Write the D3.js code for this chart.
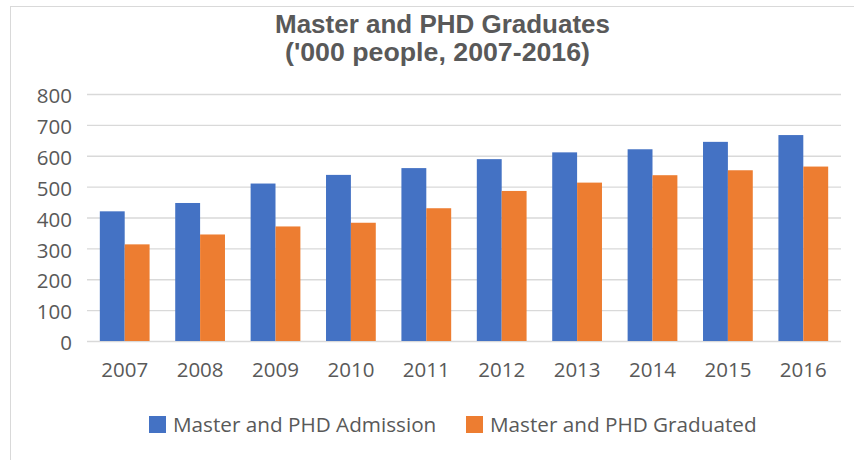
<!DOCTYPE html>
<html>
<head>
<meta charset="utf-8">
<script src="https://cdn.jsdelivr.net/npm/d3@7"></script>
<style>
  html, body { margin: 0; padding: 0; background: #fff; }
  svg { display: block; }
</style>
</head>
<body>
<svg id="chart" width="854" height="460"></svg>
<script>
const years = ["2007","2008","2009","2010","2011","2012","2013","2014","2015","2016"];
const admission = [420, 447, 510, 538, 560, 589, 611, 621, 645, 667];
const graduated = [313, 345, 371, 383, 430, 486, 513, 537, 553, 565];
const seriesNames = ["Master and PHD Admission", "Master and PHD Graduated"];
const seriesColors = ["#4472C4", "#ED7D31"];
const yTicks = [0, 100, 200, 300, 400, 500, 600, 700, 800];
const titleLines = ["Master and PHD Graduates", "('000 people, 2007-2016)"];

const svg = d3.select("#chart");
const textColor = "#595959";
const numFont = "'Open Sans', 'Noto Sans', sans-serif";

// frame
svg.append("rect")
  .attr("x", 10.5).attr("y", 6.5)
  .attr("width", 900).attr("height", 500)
  .attr("fill", "#fff").attr("stroke", "#d9d9d9").attr("stroke-width", 1);

const plot = { left: 87, right: 841, top: 94, bottom: 341 };

const x0 = d3.scaleBand().domain(years)
  .range([plot.left, plot.right]).paddingInner(0.34).paddingOuter(0.17);
const x1 = d3.scaleBand().domain([0, 1]).range([0, x0.bandwidth()]).padding(0);
const y = d3.scaleLinear().domain([0, 800]).range([plot.bottom, plot.top]);

// gridlines + y labels via axis
const yAxis = d3.axisLeft(y).tickValues(yTicks).tickSize(-(plot.right - plot.left)).tickPadding(15);
const gy = svg.append("g").attr("transform", `translate(${plot.left},0)`).call(yAxis);
gy.select(".domain").remove();
gy.selectAll(".tick line").attr("stroke", "#d9d9d9").attr("stroke-width", 1.3);
gy.selectAll(".tick text")
  .attr("fill", textColor).attr("font-family", numFont).attr("font-size", 20.5)
  .attr("dy", "0.42em");

// bars
const data = years.map((yr, i) => ({ year: yr, values: [admission[i], graduated[i]] }));
const groups = svg.append("g").selectAll("g").data(data).join("g")
  .attr("transform", d => `translate(${x0(d.year)},0)`);
groups.selectAll("rect").data(d => d.values.map((v, k) => ({ v, k }))).join("rect")
  .attr("x", d => x1(d.k))
  .attr("width", x1.bandwidth())
  .attr("y", d => y(d.v))
  .attr("height", d => y(0) - y(d.v))
  .attr("fill", d => seriesColors[d.k]);

// x axis labels
const xAxis = d3.axisBottom(x0).tickSize(0).tickPadding(0);
const gx = svg.append("g").attr("transform", `translate(0,${plot.bottom})`).call(xAxis);
gx.select(".domain").remove();
gx.selectAll(".tick text")
  .attr("fill", textColor).attr("font-family", numFont).attr("font-size", 20.5)
  .attr("y", 36).attr("dy", 0);

// title
const tl = [ { t: titleLines[0], y: 33, len: 335, cx: 442.5 }, { t: titleLines[1], y: 61, len: 305, cx: 437.5 } ];
svg.append("g").selectAll("text").data(tl).join("text")
  .attr("x", d => d.cx).attr("y", d => d.y)
  .attr("text-anchor", "middle")
  .attr("font-family", "'Liberation Sans', Arial, sans-serif")
  .attr("font-weight", "bold").attr("font-size", 26)
  .attr("fill", textColor)
  .attr("textLength", d => d.len).attr("lengthAdjust", "spacingAndGlyphs")
  .text(d => d.t);

// legend
const legendPos = [ { sx: 149, tx: 173 }, { sx: 466, tx: 490 } ];
const lg = svg.append("g").selectAll("g").data(seriesNames).join("g");
lg.append("rect")
  .attr("x", (d, i) => legendPos[i].sx).attr("y", 416)
  .attr("width", 17).attr("height", 17)
  .attr("fill", (d, i) => seriesColors[i]);
lg.append("text")
  .attr("x", (d, i) => legendPos[i].tx).attr("y", 432)
  .attr("font-family", numFont).attr("font-size", 20.7)
  .attr("fill", textColor)
  .text(d => d);
</script>
</body>
</html>
